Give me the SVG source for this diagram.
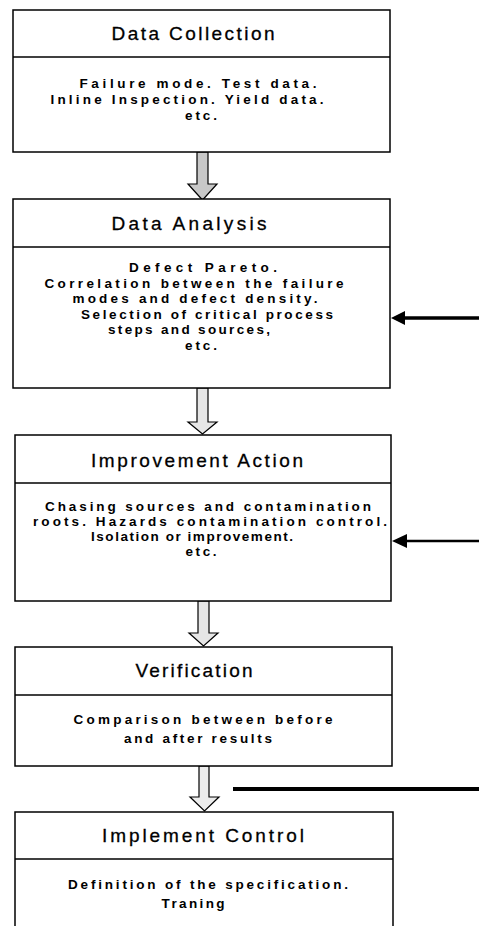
<svg xmlns="http://www.w3.org/2000/svg" width="479" height="926" viewBox="0 0 479 926">
<style>
.box{fill:#fff;stroke:#000;stroke-width:1.5}
.div{stroke:#000;stroke-width:1.3}
.t{font-family:"Liberation Sans",Arial,sans-serif;font-size:19px;text-anchor:middle;fill:#000;stroke:#000;stroke-width:0.3}
.b{font-family:"Liberation Sans",Arial,sans-serif;font-size:13.5px;font-weight:bold;text-anchor:middle;fill:#000}
.ba{stroke:#000;stroke-width:1.2;stroke-linejoin:miter}
</style>
<g id="connectors">
<path class="ba" fill="#c8c8c8" d="M197,152 L197,184 L188,184 L202.5,200 L217,184 L208,184 L208,152 Z"/>
<path class="ba" fill="#e6e6e6" d="M197,388 L197,422 L188,422 L202.5,434 L217,422 L208,422 L208,388 Z"/>
<path class="ba" fill="#e6e6e6" d="M198,601 L198,633 L189,633 L203.5,646 L218,633 L209,633 L209,601 Z"/>
<path class="ba" fill="#ececec" d="M199,766 L199,797 L190,797 L204.5,811 L219,797 L209,797 L209,766 Z"/>
<path d="M479,318 L405,318" stroke="#000" stroke-width="3.5" fill="none"/>
<path d="M405,311 L391,318 L405,325 Z" fill="#000"/>
<path d="M479,541 L406,541" stroke="#000" stroke-width="2.5" fill="none"/>
<path d="M407,534 L392,541 L407,548 Z" fill="#000"/>
<path d="M233,789 L479,789" stroke="#000" stroke-width="4" fill="none"/>
</g>
<g id="data-collection">
<rect class="box" x="13" y="10" width="377" height="142"/>
<line class="div" x1="13" y1="57" x2="390" y2="57"/>
<text class="t" x="193" y="40" textLength="163" lengthAdjust="spacing">Data Collection</text>
<text class="b" x="198" y="88" textLength="237" lengthAdjust="spacing">Failure mode. Test data.</text>
<text class="b" x="187" y="104" textLength="273" lengthAdjust="spacing">Inline Inspection. Yield data.</text>
<text class="b" x="201" y="120" textLength="32" lengthAdjust="spacing">etc.</text>
</g>
<g id="data-analysis">
<rect class="box" x="13" y="199" width="377" height="189"/>
<line class="div" x1="13" y1="247" x2="390" y2="247"/>
<text class="t" x="189" y="230" textLength="155" lengthAdjust="spacing">Data Analysis</text>
<text class="b" x="203" y="272" textLength="148" lengthAdjust="spacing">Defect Pareto.</text>
<text class="b" x="194" y="287.5" textLength="299" lengthAdjust="spacing">Correlation between the failure</text>
<text class="b" x="195" y="303" textLength="245" lengthAdjust="spacing">modes and defect density.</text>
<text class="b" x="207" y="318.5" textLength="252" lengthAdjust="spacing">Selection of critical process</text>
<text class="b" x="189" y="334" textLength="162" lengthAdjust="spacing">steps and sources,</text>
<text class="b" x="201" y="349.5" textLength="32" lengthAdjust="spacing">etc.</text>
</g>
<g id="improvement-action">
<rect class="box" x="15" y="435" width="376" height="166"/>
<line class="div" x1="15" y1="483" x2="391" y2="483"/>
<text class="t" x="197" y="467" textLength="212" lengthAdjust="spacing">Improvement Action</text>
<text class="b" x="208" y="511" textLength="326" lengthAdjust="spacing">Chasing sources and contamination</text>
<text class="b" x="210" y="526" textLength="354" lengthAdjust="spacing">roots. Hazards contamination control.</text>
<text class="b" x="192" y="541" textLength="202" lengthAdjust="spacing">Isolation or improvement.</text>
<text class="b" x="201" y="556" textLength="31" lengthAdjust="spacing">etc.</text>
</g>
<g id="verification">
<rect class="box" x="15" y="647" width="377" height="119"/>
<line class="div" x1="15" y1="695" x2="392" y2="695"/>
<text class="t" x="194" y="677" textLength="117" lengthAdjust="spacing">Verification</text>
<text class="b" x="203" y="724" textLength="259" lengthAdjust="spacing">Comparison between before</text>
<text class="b" x="198" y="743" textLength="148" lengthAdjust="spacing">and after results</text>
</g>
<g id="implement-control">
<rect class="box" x="15" y="812" width="378" height="130"/>
<line class="div" x1="15" y1="859" x2="393" y2="859"/>
<text class="t" x="203" y="842" textLength="202" lengthAdjust="spacing">Implement Control</text>
<text class="b" x="208" y="889" textLength="280" lengthAdjust="spacing">Definition of the specification.</text>
<text class="b" x="193" y="908" textLength="63" lengthAdjust="spacing">Traning</text>
</g>
</svg>
